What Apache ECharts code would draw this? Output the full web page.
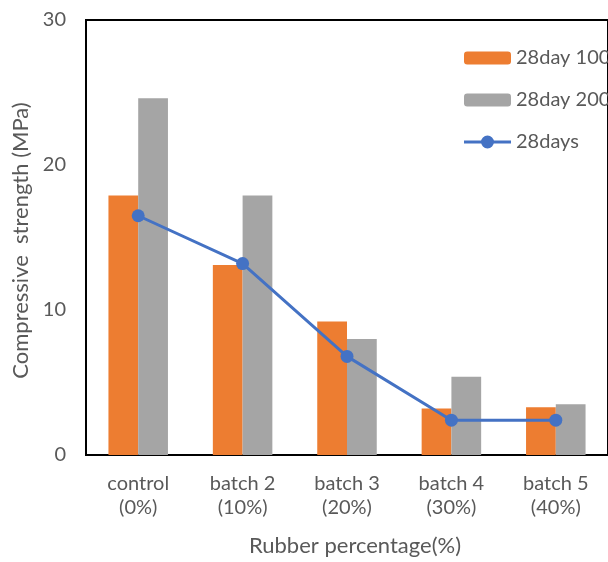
<!DOCTYPE html>
<html><head><meta charset="utf-8">
<script src="https://cdn.jsdelivr.net/npm/echarts@6/dist/echarts.min.js"></script>
<style>html,body{margin:0;padding:0;background:#fff}#c{width:608px;height:562px}</style>
</head><body><div id="c"></div>
<script>
var categories = ['control\n(0%)', 'batch 2\n(10%)', 'batch 3\n(20%)', 'batch 4\n(30%)', 'batch 5\n(40%)'];
var day28_100 = [17.9, 13.1, 9.2, 3.2, 3.3];
var day28_200 = [24.6, 17.9, 8.0, 5.4, 3.5];
var day28 = [16.5, 13.2, 6.8, 2.4, 2.4];
var yTicks = [0, 10, 20, 30];

var FONT = 'Lato';
var TXT = '#595959';
var lineIcon = 'path://M0,5 L17.5,5 L17.5,8 L0,8 Z M29.5,5 L47,5 L47,8 L29.5,8 Z M17,6.5 A6.5,6.5 0 1,1 30,6.5 A6.5,6.5 0 1,1 17,6.5 Z';
var chart = echarts.init(document.getElementById('c'), null, {renderer: 'canvas'});
chart.setOption({
  animation: false,
  textStyle: {fontFamily: FONT},
  grid: {left: 86, top: 20, width: 530, bottom: 106, show: true, borderColor: '#000', borderWidth: 2, backgroundColor: 'transparent'},
  legend: {
    left: 459, top: 43, orient: 'vertical', itemGap: 22, itemWidth: 47, itemHeight: 13,
    textStyle: {fontFamily: FONT, fontSize: 20, color: TXT},
    data: [
      {name: '28day 100'},
      {name: '28day 200'},
      {name: '28days', icon: lineIcon, itemStyle: {color: '#4472C4'}}
    ]
  },
  xAxis: {
    type: 'category', data: categories,
    axisLine: {show: true, lineStyle: {color: '#000', width: 2}},
    axisTick: {show: false},
    axisLabel: {fontFamily: FONT, fontSize: 20, color: TXT, lineHeight: 24, margin: 17},
    name: 'Rubber percentage(%)', nameLocation: 'middle', nameGap: 80,
    nameTextStyle: {fontFamily: FONT, fontSize: 22, color: TXT, padding: [0, 0, 0, 16]}
  },
  yAxis: {
    type: 'value', min: yTicks[0], max: yTicks[yTicks.length - 1], interval: 10,
    axisLine: {show: true, lineStyle: {color: '#000', width: 2}},
    axisTick: {show: false},
    splitLine: {show: false},
    axisLabel: {fontFamily: FONT, fontSize: 20, color: TXT, margin: 20},
    name: 'Compressive  strength (MPa)', nameLocation: 'middle', nameGap: 51,
    nameTextStyle: {fontFamily: FONT, fontSize: 22, color: TXT, padding: [0, 6, 0, 0]}
  },
  series: [
    {name: '28day 100', type: 'bar', data: day28_100, barGap: '0%', barCategoryGap: '43%', itemStyle: {color: '#ED7D31'}},
    {name: '28day 200', type: 'bar', data: day28_200, itemStyle: {color: '#A5A5A5'}},
    {name: '28days', type: 'line', data: day28, symbol: 'circle', symbolSize: 13,
     lineStyle: {color: '#4472C4', width: 3}, itemStyle: {color: '#4472C4'}}
  ]
});
</script></body></html>
